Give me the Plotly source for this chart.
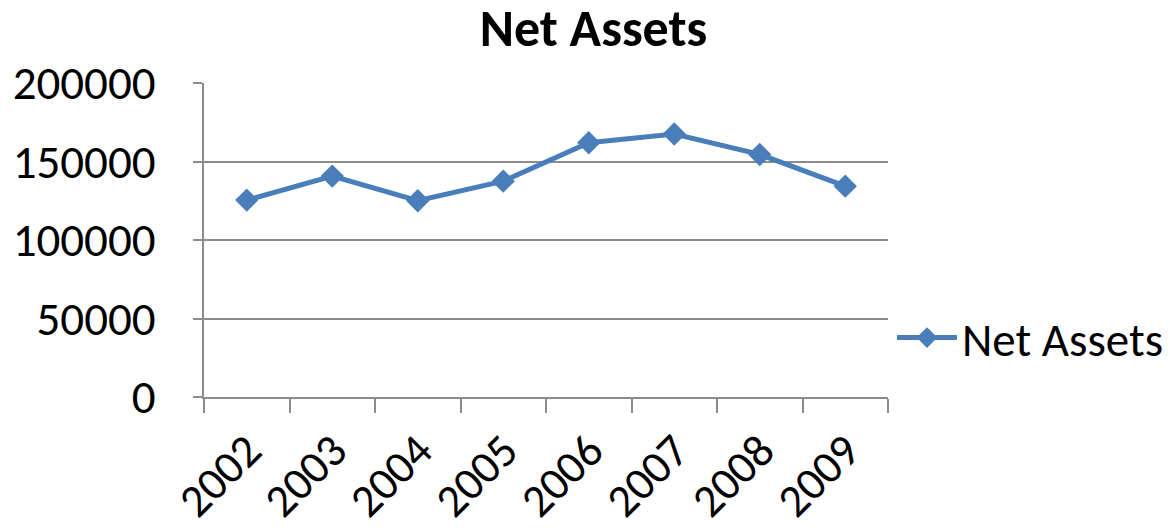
import plotly.graph_objects as go

years = ["2002", "2003", "2004", "2005", "2006", "2007", "2008", "2009"]
net_assets = [125400, 140700, 125000, 137500, 161900, 167500, 154500, 134300]
y_ticks = [0, 50000, 100000, 150000, 200000]

FONT = "Carlito, Lato, 'Open Sans', sans-serif"
BLUE = "#4A7EBB"
GRID = "#8C8C8C"

fig = go.Figure()
fig.add_trace(go.Scatter(
    x=years, y=net_assets, mode="lines+markers", name="Net Assets",
    line=dict(color=BLUE, width=5),
    marker=dict(symbol="diamond", size=18, color=BLUE),
))

L, R, T, B = 196, 290, 75, 139
W, H = 1170, 528
pw = W - L - R
ph = H - T - B

fig.update_layout(
    width=W, height=H,
    margin=dict(l=L, r=R, t=T, b=B),
    paper_bgcolor="white", plot_bgcolor="white",
    font=dict(family=FONT, color="black", size=47),
    title=dict(text="<b>Net Assets</b>", x=585.5 / W, xanchor="center",
               y=1 - 2 / H, yanchor="top", font=dict(size=52, family=FONT),
               pad=dict(t=0, b=0, l=0, r=0)),
    showlegend=True,
    legend=dict(xref="container", x=884 / W, xanchor="left",
                yref="container", y=1 - 330 / H, yanchor="middle",
                font=dict(size=47, family=FONT), bgcolor="rgba(0,0,0,0)",
                itemwidth=60, tracegroupgap=0),
)
fig.update_xaxes(
    type="category", tickson="boundaries", ticks="outside", ticklen=14,
    tickcolor=GRID, tickwidth=2, showline=True, linecolor=GRID, linewidth=2,
    showgrid=False, tickangle=-45, tickfont=dict(size=46, family=FONT),
    range=[-0.5, 7.5], ticklabelstandoff=6, ticklabelshift=1, automargin=False,
)
fig.update_yaxes(
    range=[0, 200000], tickvals=y_ticks, ticktext=[str(v) for v in y_ticks],
    ticks="outside", ticklen=9, tickcolor=GRID, tickwidth=2,
    showline=True, linecolor=GRID, linewidth=2,
    showgrid=True, gridcolor=GRID, gridwidth=2, zeroline=False,
    tickfont=dict(size=47, family=FONT), ticklabelstandoff=28, automargin=False,
)

fig.write_html("out.html")
